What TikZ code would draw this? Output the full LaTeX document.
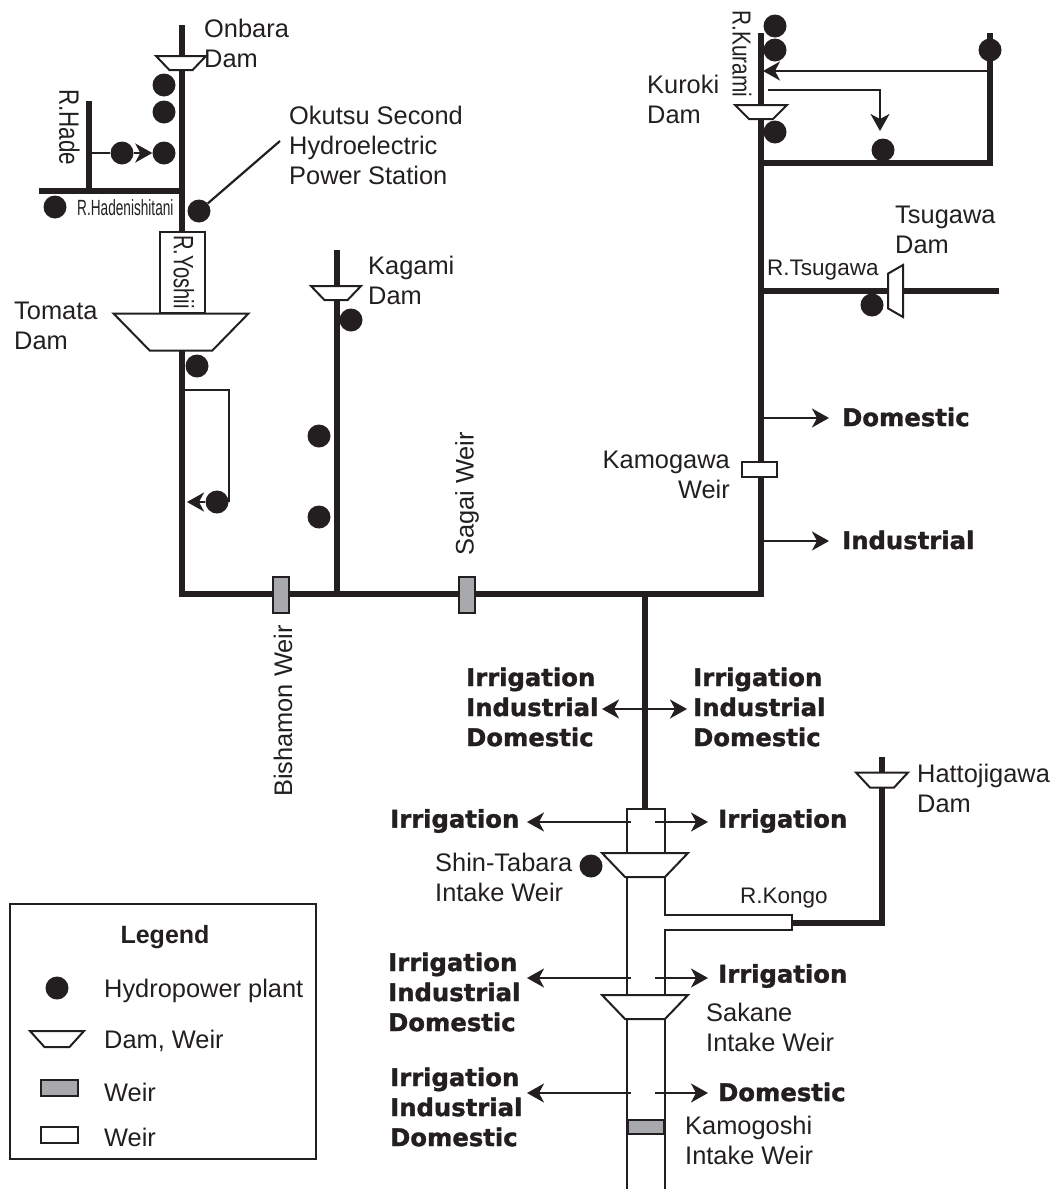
\documentclass[tikz,border=0pt]{standalone}
\usepackage{fontspec}
\setmainfont{Liberation Sans}
\newfontfamily\heavyfont[FakeBold=1.4]{DejaVu Sans Bold}
\newfontfamily\narrowfont[FakeStretch=0.72]{Liberation Sans}
\newfontfamily\slimfont[FakeStretch=0.8]{Liberation Sans}
\newfontfamily\thinfont[FakeStretch=0.62]{Liberation Sans}
\usetikzlibrary{arrows.meta,shapes.geometric}
\definecolor{ink}{HTML}{231F20}
\definecolor{weirgrey}{HTML}{A7A9AC}
\begin{document}
\begin{tikzpicture}[x=1pt, y=-1pt,
    >={Stealth[length=17pt,width=19pt,inset=5pt]},
    river/.style={draw=ink, line width=6.5pt},
    canal/.style={draw=ink, line width=2.2pt},
    flow/.style={->, draw=ink, line width=2.2pt},
    plant/.style={draw=none, fill=ink, circle, minimum size=23pt, inner sep=0pt},
    dam/.style={draw=ink, fill=white, line width=2pt, trapezium, trapezium angle=60,
      trapezium stretches=true, shape border rotate=180, inner sep=1pt},
    weir/.style={draw=ink, line width=2pt, rectangle, inner sep=0pt},
    lbl/.style={text=ink, inner sep=0pt, align=left, anchor=west,
      font=\fontsize{25.4}{30}\selectfont},
    riv/.style={lbl, font=\fontsize{22.5}{26}\selectfont},
    use/.style={lbl, font=\heavyfont\fontsize{24.3}{30}\selectfont}]

  \useasboundingbox (0,0) rectangle (1059,1189);

  % rivers
  \coordinate (yoshiiTop) at (182,25);
  \coordinate (yoshiiFoot) at (182,594);
  \coordinate (hadeTop) at (89,101);
  \coordinate (hadeFoot) at (89,191);
  \coordinate (nishiEnd) at (39,191);
  \coordinate (nishiFoot) at (182,191);
  \coordinate (kagamiTop) at (337,250);
  \coordinate (kagamiFoot) at (337,594);
  \coordinate (kuramiTop) at (761,33);
  \coordinate (kuramiFoot) at (761,594);
  \coordinate (eastTop) at (990,33);
  \coordinate (eastFoot) at (990,163);
  \coordinate (eastJoin) at (761,163);
  \coordinate (tsugawaEnd) at (999,291);
  \coordinate (tsugawaJoin) at (761,291);
  \coordinate (mainJoin) at (645,594);
  \coordinate (mainFoot) at (645,809);
  \coordinate (kongoTop) at (882,757);
  \coordinate (kongoEnd) at (792,923);

  \draw[river] (yoshiiTop) -- (yoshiiFoot) -- (kuramiFoot) -- (kuramiTop);
  \draw[river] (hadeTop) -- (hadeFoot);
  \draw[river] (nishiEnd) -- (nishiFoot);
  \draw[river] (kagamiTop) -- (kagamiFoot);
  \draw[river] (eastTop) -- (eastFoot) -- (eastJoin);
  \draw[river] (tsugawaEnd) -- (tsugawaJoin);
  \draw[river] (mainJoin) -- (mainFoot);
  \draw[river] (kongoTop) |- (kongoEnd);

  % canal below the main river
  \coordinate (canalTL) at (627,809);
  \coordinate (canalTR) at (665,809);
  \coordinate (canalBL) at (627,1189);
  \coordinate (canalBR) at (665,1189);
  \coordinate (kongoUp) at (792,915);
  \coordinate (kongoLow) at (792,930);
  \draw[canal] (canalBL) -- (canalTL) -- (canalTR) -- (665,915) -- (kongoUp)
    -- (kongoLow) -- (665,930) -- (canalBR);

  % dams and weirs
  \node[dam, minimum width=50pt, minimum height=14pt] (onbara) at (181,63) {};
  \node[dam, minimum width=50pt, minimum height=14pt] (kagami) at (336,293) {};
  \node[dam, minimum width=52pt, minimum height=14pt] (kuroki) at (761,112) {};
  \node[dam, minimum width=52pt, minimum height=15pt] (hattoji) at (882,780) {};
  \node[dam, minimum width=135pt, minimum height=37pt] (tomata) at (181,332) {};
  \node[dam, minimum width=86pt, minimum height=24pt] (shintabara) at (645,865) {};
  \node[dam, minimum width=86pt, minimum height=24pt] (sakane) at (645,1007) {};
  \node[dam, minimum width=52pt, minimum height=15pt, trapezium angle=76, shape border rotate=90] (tsugawa) at (895.5,291) {};
  \node[draw=ink, fill=white, line width=2pt, minimum width=45pt, minimum height=81pt, inner sep=0pt] (yoshiiBox) at (182.5,272.5) {};
  \node[weir, fill=weirgrey, minimum width=16pt, minimum height=36pt] (bishamon) at (281,595) {};
  \node[weir, fill=weirgrey, minimum width=16pt, minimum height=36pt] (sagai) at (467,595) {};
  \node[weir, fill=white, minimum width=35pt, minimum height=15pt] (kamogawa) at (759,469) {};
  \node[weir, fill=weirgrey, minimum width=36pt, minimum height=14pt] (kamogoshi) at (645.5,1127) {};

  % hydropower plants
  \node[plant] (pa) at (164,85) {};
  \node[plant] (pb) at (164,112) {};
  \node[plant] (pc) at (164,153) {};
  \node[plant] (pd) at (122,153) {};
  \node[plant] (pe) at (55,207) {};
  \node[plant] (okutsu) at (199,211) {};
  \node[plant] (pf) at (197,366) {};
  \node[plant] (pg) at (217,502) {};
  \node[plant] (ph) at (351,320) {};
  \node[plant] (pi) at (319,436) {};
  \node[plant] (pj) at (319,517) {};
  \node[plant] (pk) at (775,26) {};
  \node[plant] (pl) at (775,50) {};
  \node[plant] (pm) at (990,50) {};
  \node[plant] (pn) at (775,132) {};
  \node[plant] (po) at (883,150) {};
  \node[plant] (pp) at (872,305) {};
  \node[plant] (pq) at (591,866) {};

  % water transfers and intakes
  \coordinate (hadeTake) at (89,153);
  \coordinate (okutsuTag) at (280,141);
  \coordinate (bypassTop) at (185,390);
  \coordinate (bypassEnd) at (187,502);
  \coordinate (eastTake) at (988,71);
  \coordinate (kuramiIn) at (763,71);
  \coordinate (kuramiOut) at (768,90);
  \coordinate (kuramiTip) at (880,131);
  \draw[canal] (hadeTake) -- (pd);
  \draw[flow] (pd) -- (pc);
  \draw[canal] (okutsu) -- (okutsuTag);
  \draw[canal] (bypassTop) -| (pg.east);
  \draw[flow] (pg) -- (bypassEnd);
  \draw[flow] (eastTake) -- (kuramiIn);
  \draw[flow] (kuramiOut) -| (kuramiTip);

  \coordinate (domFrom) at (761,418);
  \coordinate (domTo) at (829,418);
  \coordinate (indFrom) at (761,541);
  \coordinate (indTo) at (829,541);
  \coordinate (midL) at (602,709);
  \coordinate (midR) at (687,709);
  \draw[flow] (domFrom) -- (domTo);
  \draw[flow] (indFrom) -- (indTo);
  \draw[flow, <->] (midL) -- (midR);

  \foreach \name/\yy in {a/822, b/978, c/1093} {
    \coordinate (left\name) at (631,\yy);
    \coordinate (leftTip\name) at (527,\yy);
    \coordinate (right\name) at (655,\yy);
    \coordinate (rightTip\name) at (708,\yy);
    \draw[flow] (left\name) -- (leftTip\name);
    \draw[flow] (right\name) -- (rightTip\name);
  }

  % names
  \node[lbl] (tOnbara) at (204,43) {Onbara\\Dam};
  \node[lbl] (tOkutsu) at (289,145) {Okutsu Second\\Hydroelectric\\Power Station};
  \node[lbl] (tTomata) at (14,326) {Tomata\\Dam};
  \node[lbl] (tKagami) at (368,280) {Kagami\\Dam};
  \node[lbl] (tKuroki) at (647,99) {Kuroki\\Dam};
  \node[lbl] (tTsugawa) at (895,230) {Tsugawa\\Dam};
  \node[lbl, align=right, anchor=east] (tKamogawa) at (730,475) {Kamogawa\\Weir};
  \node[lbl, rotate=90, anchor=center] (tSagai) at (467,494) {Sagai Weir};
  \node[lbl, rotate=90, anchor=center] (tBishamon) at (283,711) {Bishamon Weir};
  \node[lbl] (tShin) at (435,877) {Shin-Tabara\\Intake Weir};
  \node[lbl] (tSakane) at (706,1027) {Sakane\\Intake Weir};
  \node[lbl] (tKamogoshi) at (685,1140) {Kamogoshi\\Intake Weir};
  \node[lbl] (tHatto) at (917,788) {Hattojigawa\\Dam};

  \node[riv, font=\slimfont\fontsize{28}{30}\selectfont, rotate=-90, anchor=center] (rHade) at (69.5,127) {R.Hade};
  \node[riv, font=\slimfont\fontsize{26}{30}\selectfont, rotate=-90, anchor=center] (rKurami) at (742,54) {R.Kurami};
  \node[riv, font=\narrowfont\fontsize{28}{30}\selectfont, rotate=-90, anchor=center] (rYoshii) at (184,272) {R.Yoshii};
  \node[riv, font=\thinfont\fontsize{22}{26}\selectfont] (rNishi) at (77,208) {R.Hadenishitani};
  \node[riv] (rTsugawa) at (767,270) {R.Tsugawa};
  \node[riv] (rKongo) at (740,898) {R.Kongo};

  % water uses
  \node[use] (uDomA) at (842,417) {Domestic};
  \node[use] (uIndA) at (842,540) {Industrial};
  \node[use] (uMidL) at (466,707) {Irrigation\\Industrial\\Domestic};
  \node[use] (uMidR) at (693,707) {Irrigation\\Industrial\\Domestic};
  \node[use] (uTabL) at (390,821) {Irrigation};
  \node[use] (uTabR) at (718,821) {Irrigation};
  \node[use] (uSakL) at (388,992) {Irrigation\\Industrial\\Domestic};
  \node[use] (uSakR) at (718,976) {Irrigation};
  \node[use] (uKamL) at (390,1107) {Irrigation\\Industrial\\Domestic};
  \node[use] (uKamR) at (718,1092) {Domestic};

  % legend
  \node[draw=ink, line width=2pt, minimum width=306pt, minimum height=255pt, inner sep=0pt] (legend) at (163,1031.5) {};
  \node[lbl, anchor=center, font=\bfseries\fontsize{25}{30}\selectfont] (legendTitle) at (165,937) {Legend};
  \node[plant] (keyPlant) at (57,988) {};
  \node[dam, minimum width=54pt, minimum height=16pt] (keyDam) at (57,1039) {};
  \node[weir, fill=weirgrey, minimum width=37pt, minimum height=16pt] (keyGrey) at (59.5,1088) {};
  \node[weir, fill=white, minimum width=37pt, minimum height=16pt] (keyWhite) at (59.5,1135) {};
  \node[lbl] (tPlant) at (104,991) {Hydropower plant};
  \node[lbl] (tDam) at (104,1041) {Dam, Weir};
  \node[lbl] (tGrey) at (104,1092) {Weir};
  \node[lbl] (tWhite) at (104,1137) {Weir};
\end{tikzpicture}
\end{document}
